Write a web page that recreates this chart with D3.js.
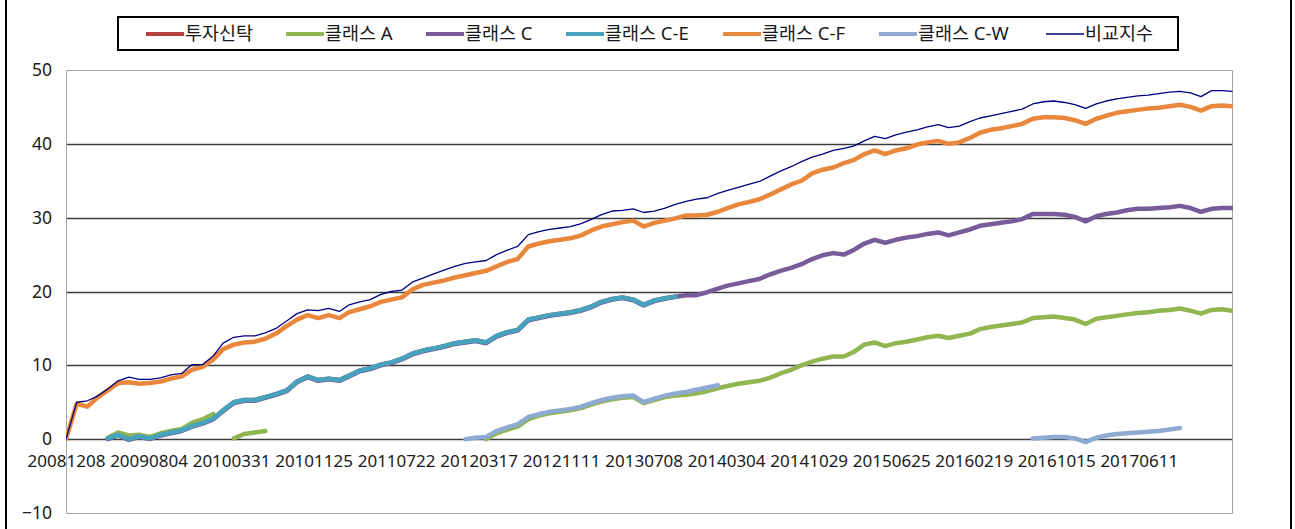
<!DOCTYPE html>
<html>
<head>
<meta charset="utf-8">
<script src="https://cdn.jsdelivr.net/npm/d3@7"></script>
<style>
  body { margin: 0; background: #fff; }
  svg text { font-family: "Noto Sans", "Noto Sans CJK KR", sans-serif; fill: #1a1a1a; }
</style>
</head>
<body>
<div id="chart"></div>
<script>
(function(d3) {
    'use strict';

    // monthly observation dates, first one 2008-12-08
    var months = d3.range(112).map(function(i) {
        return d3.timeMonth.offset(new Date(2008, 11, 8), i);
    });

    var xTickLabels = ['20081208', '20090804', '20100331', '20101125', '20110722', '20120317', '20121111',
        '20130708', '20140304', '20141029', '20150625', '20160219', '20161015', '20170611'];
    var yTicks = [-10, 0, 10, 20, 30, 40, 50];

    var seriesNames = ['투자신탁', '클래스 A', '클래스 C', '클래스 C-E', '클래스 C-F', '클래스 C-W', '비교지수'];

    // each series: list of [first month index, values...]
    var trust = [[4, [0.1, 0.6, 0.0, 0.4, 0.1, 0.6, 0.9, 1.2, 1.8, 2.2, 2.8, 3.9, 5.0, 5.3, 5.3, 5.7, 6.1, 6.6,
        7.8, 8.5, 8.0, 8.2, 8.0, 8.6, 9.3, 9.6, 10.1, 10.4, 10.9, 11.6, 12.0, 12.3, 12.6, 13.0, 13.2, 13.4, 13.1,
        14.0, 14.5, 14.8, 16.2, 16.5, 16.8, 17.0, 17.2, 17.5, 18.0, 18.6, 19.0, 19.2, 18.9, 18.2, 18.8, 19.1, 19.3]]];

    var classA = [
        [4, [0.2, 0.9, 0.5, 0.6, 0.3, 0.8, 1.1, 1.4, 2.2, 2.7, 3.4]],
        [16, [0.1, 0.7, 0.9, 1.1]],
        [40, [0.0, 0.8, 1.3, 1.7, 2.7, 3.2, 3.5, 3.7, 3.9, 4.2,
            4.7, 5.1, 5.4, 5.6, 5.7, 4.9, 5.3, 5.7, 5.9, 6.0,
            6.2, 6.5, 6.9, 7.2, 7.5, 7.7, 7.9, 8.3, 8.9, 9.4,
            10.0, 10.5, 10.9, 11.2, 11.2, 11.8, 12.8, 13.1, 12.6, 13.0,
            13.2, 13.5, 13.8, 14.0, 13.7, 14.0, 14.3, 14.9, 15.2, 15.4,
            15.6, 15.8, 16.4, 16.5, 16.6, 16.4, 16.2, 15.6, 16.3, 16.5,
            16.7, 16.9, 17.1, 17.2, 17.4, 17.5, 17.7, 17.4, 17.0, 17.5,
            17.6, 17.4]]
    ];

    var classC = [[4, [0.0, 0.5, -0.1, 0.3, 0.0, 0.5, 0.8, 1.1, 1.7, 2.1, 2.7, 3.8, 4.9, 5.2, 5.2, 5.6, 6.0, 6.5,
        7.7, 8.4, 7.9, 8.1, 7.9, 8.5, 9.2, 9.5, 10.0, 10.3, 10.8, 11.5, 11.9, 12.2, 12.5, 12.9, 13.1, 13.3, 13.0,
        13.9, 14.4, 14.7, 16.1, 16.4, 16.7, 16.9, 17.1, 17.4, 17.9, 18.5, 18.9, 19.1, 18.8, 18.1, 18.7, 19.0,
        19.3, 19.5, 19.5, 19.9, 20.4, 20.8, 21.1, 21.4, 21.7, 22.3, 22.8, 23.2, 23.7, 24.4, 24.9, 25.2, 25.0, 25.6,
        26.5, 27.0, 26.6, 27.0, 27.3, 27.5, 27.8, 28.0, 27.6, 28.0, 28.4, 28.9, 29.1, 29.3, 29.5, 29.8, 30.5, 30.5,
        30.5, 30.4, 30.1, 29.5, 30.2, 30.5, 30.7, 31.0, 31.2, 31.2, 31.3, 31.4, 31.6, 31.3, 30.8, 31.2, 31.3, 31.3]]];

    var classCE = [[4, [0.1, 0.6, 0.0, 0.4, 0.1, 0.6, 0.9, 1.2, 1.8, 2.2, 2.8, 3.9, 5.0, 5.3, 5.3, 5.7, 6.1, 6.6,
        7.8, 8.5, 8.0, 8.2, 8.0, 8.6, 9.3, 9.6, 10.1, 10.4, 10.9, 11.6, 12.0, 12.3, 12.6, 13.0, 13.2, 13.4, 13.1,
        14.0, 14.5, 14.8, 16.2, 16.5, 16.8, 17.0, 17.2, 17.5, 18.0, 18.6, 19.0, 19.2, 18.9, 18.2, 18.8, 19.1, 19.3]]];

    var classCF = [[0, [0, 4.8, 4.4, 5.6, 6.6, 7.6, 7.7, 7.5, 7.6, 7.8,
        8.2, 8.5, 9.4, 9.8, 10.8, 12.2, 12.8, 13.1, 13.2, 13.6,
        14.3, 15.3, 16.2, 16.8, 16.4, 16.8, 16.4, 17.2, 17.6, 18.0,
        18.6, 18.9, 19.2, 20.3, 20.9, 21.2, 21.5, 21.9, 22.2, 22.5,
        22.8, 23.4, 24.0, 24.4, 26.1, 26.5, 26.8, 27.0, 27.2, 27.6,
        28.3, 28.8, 29.1, 29.4, 29.6, 28.8, 29.3, 29.6, 29.9, 30.3,
        30.3, 30.4, 30.8, 31.3, 31.8, 32.1, 32.5, 33.1, 33.8, 34.5,
        35.0, 36.0, 36.5, 36.8, 37.4, 37.8, 38.6, 39.1, 38.6, 39.1,
        39.4, 39.9, 40.2, 40.4, 40.0, 40.2, 40.8, 41.5, 41.9, 42.1,
        42.4, 42.7, 43.4, 43.6, 43.6, 43.5, 43.2, 42.7, 43.4, 43.8,
        44.2, 44.4, 44.6, 44.8, 44.9, 45.1, 45.3, 45.0, 44.5, 45.1,
        45.2, 45.1]]];

    var classCW = [
        [38, [0.0, 0.2, 0.3, 1.1, 1.6, 2.0, 3.0, 3.4, 3.7, 3.9, 4.1, 4.4, 4.9, 5.3, 5.6, 5.8, 5.9, 5.0, 5.5,
            5.9, 6.2, 6.4, 6.7, 7.0, 7.3]],
        [92, [0.1, 0.2, 0.3, 0.3, 0.1, -0.4, 0.2, 0.5, 0.7, 0.8, 0.9, 1.0, 1.1, 1.3, 1.5]]
    ];

    var benchmark = [[0, [0, 5.0, 5.2, 5.8, 6.8, 7.9, 8.4, 8.1, 8.1, 8.3,
        8.7, 8.9, 10.1, 10.1, 11.3, 13.0, 13.8, 14.0, 14.0, 14.4,
        15.0, 16.0, 17.0, 17.5, 17.4, 17.7, 17.3, 18.2, 18.6, 18.9,
        19.6, 20.0, 20.2, 21.3, 21.8, 22.4, 22.9, 23.4, 23.8, 24.0,
        24.2, 25.0, 25.6, 26.1, 27.7, 28.1, 28.4, 28.6, 28.8, 29.2,
        29.8, 30.4, 30.9, 31.0, 31.2, 30.7, 30.9, 31.3, 31.8, 32.2,
        32.5, 32.7, 33.3, 33.7, 34.1, 34.5, 34.9, 35.6, 36.3, 36.9,
        37.6, 38.2, 38.6, 39.1, 39.4, 39.7, 40.4, 41.0, 40.7, 41.2,
        41.6, 41.9, 42.3, 42.6, 42.2, 42.4, 43.0, 43.5, 43.8, 44.1,
        44.4, 44.7, 45.4, 45.7, 45.8, 45.6, 45.3, 44.8, 45.4, 45.8,
        46.1, 46.3, 46.5, 46.6, 46.8, 47.0, 47.1, 46.9, 46.4, 47.2,
        47.2, 47.1]]];

    var allSeries = [trust, classA, classC, classCE, classCF, classCW, benchmark];

    // styles
    var colors = ['#b7433f', '#91b54f', '#785b9a', '#45a3bd', '#e9873d', '#8eaad3', '#000080'];
    var widths = [4.5, 4.5, 4.5, 4.5, 4.5, 4.5, 1.3];
    var legendX = [146, 286, 426, 566, 723, 879, 1046];

    var width = 1295,
        height = 529;
    var plot = { left: 66, right: 1232, top: 70, bottom: 513 };

    var svg = d3.select('#chart').append('svg')
        .attr('width', width)
        .attr('height', height);

    var parse = d3.timeParse('%Y%m%d');

    var x = d3.scaleTime()
        .domain(d3.extent(months))
        .range([plot.left, plot.right]);

    var y = d3.scaleLinear()
        .domain([-10, 50])
        .range([plot.bottom, plot.top]);

    // outer frame
    svg.append('line').attr('x1', 6).attr('x2', 6).attr('y1', 0).attr('y2', height)
        .attr('stroke', '#000').attr('stroke-width', 2);
    svg.append('line').attr('x1', 1291).attr('x2', 1291).attr('y1', 0).attr('y2', height)
        .attr('stroke', '#000').attr('stroke-width', 2);

    // gridlines
    svg.append('g')
        .selectAll('line')
        .data(yTicks.filter(function(d) { return d > -10 && d < 50; }))
        .enter()
        .append('line')
        .attr('x1', plot.left)
        .attr('x2', plot.right)
        .attr('y1', function(d) { return Math.round(y(d)) + 0.5; })
        .attr('y2', function(d) { return Math.round(y(d)) + 0.5; })
        .attr('stroke', '#3c3c3c')
        .attr('stroke-width', 1.6);

    svg.append('rect')
        .attr('x', plot.left + 0.5)
        .attr('y', plot.top + 0.5)
        .attr('width', plot.right - plot.left)
        .attr('height', plot.bottom - plot.top)
        .attr('fill', 'none')
        .attr('stroke', '#a6a6a6')
        .attr('stroke-width', 1);

    // y axis
    var yAxis = svg.append('g')
        .attr('transform', 'translate(' + (plot.left - 14) + ',0)')
        .call(d3.axisLeft(y).tickValues(yTicks).tickSize(0).tickPadding(0));
    yAxis.select('.domain').remove();
    yAxis.selectAll('text').style('font-size', '17.5px').attr('fill', '#1a1a1a');

    // x axis labels, below the zero line
    var xAxis = svg.append('g')
        .attr('transform', 'translate(0,' + (y(0) + 16) + ')')
        .call(d3.axisBottom(x)
            .tickValues(xTickLabels.map(parse))
            .tickFormat(d3.timeFormat('%Y%m%d'))
            .tickSize(0)
            .tickPadding(0));
    xAxis.select('.domain').remove();
    xAxis.selectAll('text').style('font-size', '17px').attr('fill', '#1a1a1a');

    // lines
    var line = d3.line()
        .x(function(d) { return x(d.date); })
        .y(function(d) { return y(d.value); });

    svg.append('clipPath').attr('id', 'plotclip')
        .append('rect')
        .attr('x', plot.left).attr('y', plot.top)
        .attr('width', plot.right - plot.left + 1).attr('height', plot.bottom - plot.top);

    allSeries.forEach(function(segs, i) {
        segs.forEach(function(seg) {
            var pts = seg[1].map(function(v, j) {
                return { date: months[seg[0] + j], value: v };
            });
            svg.append('path')
                .datum(pts)
                .attr('clip-path', 'url(#plotclip)')
                .attr('d', line)
                .attr('fill', 'none')
                .attr('stroke', colors[i])
                .attr('stroke-width', widths[i])
                .attr('stroke-linejoin', 'round')
                .attr('stroke-linecap', 'round');
        });
    });

    // legend
    var legend = svg.append('g');
    legend.append('rect')
        .attr('x', 118)
        .attr('y', 17)
        .attr('width', 1060)
        .attr('height', 33)
        .attr('fill', '#fff')
        .attr('stroke', '#000')
        .attr('stroke-width', 2);

    var item = legend.selectAll('.legend')
        .data(seriesNames)
        .enter()
        .append('g')
        .attr('class', 'legend')
        .attr('transform', function(d, i) { return 'translate(' + legendX[i] + ',34)'; });

    item.append('line')
        .attr('x1', 0)
        .attr('x2', 38)
        .attr('stroke', function(d, i) { return colors[i]; })
        .attr('stroke-width', function(d, i) { return i === 6 ? 1.3 : 4; });

    item.append('text')
        .attr('x', 39)
        .attr('dy', '0.35em')
        .style('font-size', '18.5px')
        .text(function(d) { return d; });

})(window.d3);
</script>
</body>
</html>
